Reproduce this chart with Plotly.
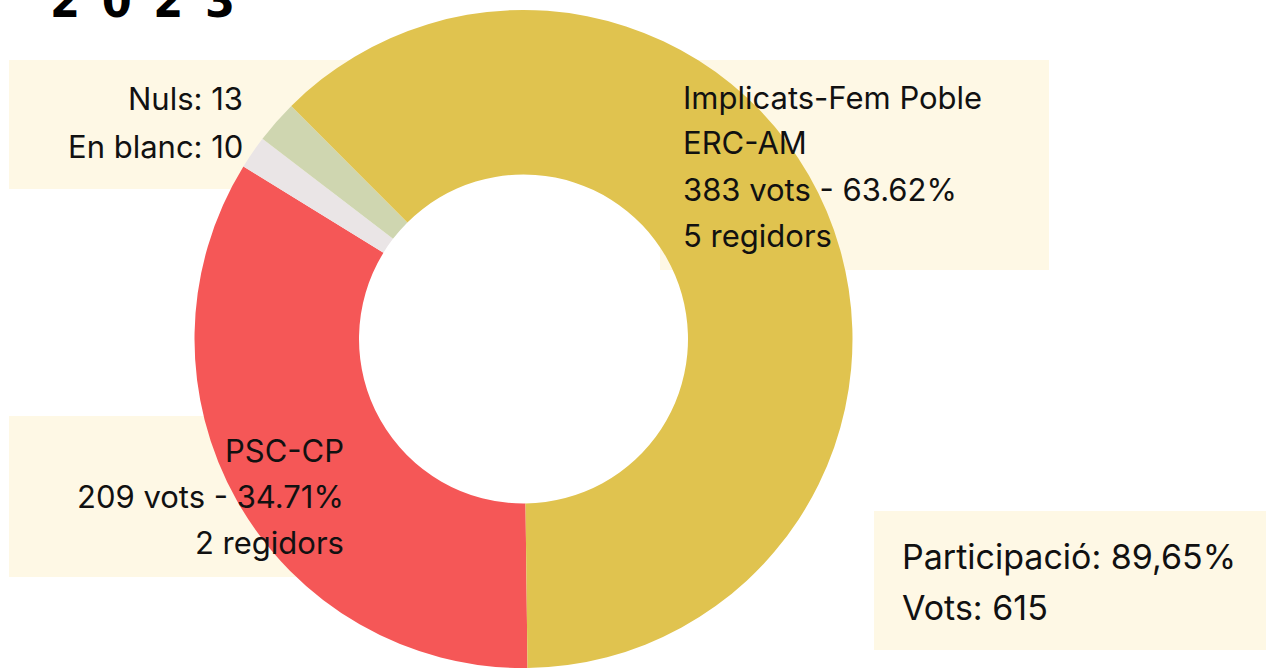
import plotly.graph_objects as go

# Data
parties = ["PSC-CP", "En blanc", "Nuls", "Implicats-Fem Poble ERC-AM"]
votes = [209, 10, 13, 383]
colors = ["#F55757", "#EAE5E6", "#CFD6B0", "#E0C34F"]
title_text = "2\u20020\u20022\u20023"
label_implicats = ["Implicats-Fem Poble", "ERC-AM", "383 vots - 63.62%", "5 regidors"]
label_psc = ["PSC-CP", "209 vots - 34.71%", "2 regidors"]
label_other = ["Nuls: 13", "En blanc: 10"]
label_total = ["Participació: 89,65%", "Vots: 615"]

W, H = 1266, 668
FONT = "Inter"
CREAM = "#FEF8E5"

fig = go.Figure()
fig.add_trace(go.Pie(
    labels=parties, values=votes, sort=False, direction="clockwise", rotation=179.3,
    hole=0.5, marker=dict(colors=colors, line=dict(width=0)),
    textinfo="none", showlegend=False,
    domain=dict(x=[194.5 / W, 852.5 / W], y=[0, 1 - 10 / H]),
))

def px(x):
    return x / W

def py(y):
    return 1 - y / H

boxes = [(9, 60, 400, 189), (660, 60, 1049, 270), (9, 416, 330, 577), (874, 511, 1266, 650)]
shapes = []
for x0, y0, x1, y1 in boxes:
    shapes.append(dict(type="rect", xref="paper", yref="paper", layer="below",
                       x0=px(x0), x1=px(x1), y0=py(y1), y1=py(y0),
                       fillcolor=CREAM, line=dict(width=0)))

ann = []
def add_lines(lines, x, y_start, step, anchor, size):
    for i, t in enumerate(lines):
        ann.append(dict(text=t, x=px(x), y=py(y_start + i * step), xref="paper", yref="paper",
                        xanchor=anchor, yanchor="middle", showarrow=False,
                        font=dict(family=FONT, size=size, color="#111111")))

add_lines(label_other, 245, 99, 47, "right", 31)
add_lines(label_implicats, 681, 97, 46, "left", 31)
add_lines(label_psc, 346, 450, 46, "right", 31)
add_lines(label_total, 900, 556, 51, "left", 34)

ann.append(dict(text="<b>" + title_text + "</b>", x=px(48), y=py(30), xref="paper", yref="paper",
                xanchor="left", yanchor="bottom", showarrow=False,
                font=dict(family="DejaVu Sans Condensed", size=48, color="#000000")))

fig.update_layout(width=W, height=H, margin=dict(l=0, r=0, t=0, b=0),
                  paper_bgcolor="white", plot_bgcolor="white",
                  shapes=shapes, annotations=ann)
fig.write_html("out.html")
